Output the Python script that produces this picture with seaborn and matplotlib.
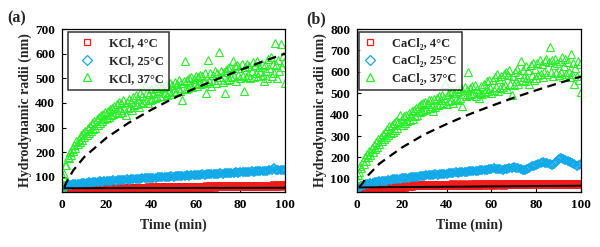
import numpy as np
import pandas as pd
import seaborn as sns
import matplotlib
matplotlib.use("Agg")
import matplotlib.pyplot as plt

sns.set_style("white")
plt.rcParams['font.family'] = ['Liberation Serif', 'DejaVu Serif']
plt.rcParams['font.weight'] = 'bold'

# ---------------- data ----------------
t_fine = [i * 0.5 for i in range(201)]   # 0 .. 100 min, 0.5 min steps
t_unit = list(range(101))                # 0 .. 100 min, 1 min steps

kcl_37 = [
    60, 100, 110, 150, 150, 180, 175, 200, 190, 215,
    205, 230, 218, 245, 232, 255, 240, 270, 250, 278,
    262, 285, 270, 300, 278, 305, 285, 318, 295, 325,
    300, 335, 312, 342, 318, 350, 325, 355, 335, 362,
    338, 368, 345, 375, 350, 380, 355, 388, 362, 395,
    360, 405, 372, 398, 365, 410, 378, 352, 402, 380,
    418, 382, 405, 372, 425, 390, 432, 395, 415, 385,
    440, 398, 428, 405, 470, 410, 445, 400, 435, 412,
    455, 415, 442, 420, 460, 425, 450, 470, 430, 462,
    428, 465, 440, 475, 432, 468, 445, 480, 438, 472,
    450, 485, 445, 478, 460, 492, 450, 482, 410, 488,
    570, 455, 495, 462, 500, 470, 505, 465, 498, 475,
    510, 470, 505, 480, 515, 478, 508, 485, 520, 440,
    482, 575, 490, 522, 470, 515, 495, 530, 480, 520,
    495, 605, 505, 530, 485, 525, 440, 535, 495, 540,
    498, 545, 505, 570, 510, 548, 490, 555, 515, 540,
    500, 560, 510, 450, 545, 505, 560, 515, 550, 500,
    530, 565, 505, 555, 520, 570, 510, 545, 525, 560,
    515, 490, 555, 530, 500, 580, 540, 585, 510, 560,
    520, 645, 555, 500, 575, 530, 640, 545, 590, 565,
    480]

kcl_25 = [
    50, 60, 64, 66, 68, 70, 71, 72, 73, 75,
    75, 76, 78, 77, 79, 80, 80, 82, 81, 83,
    84, 83, 85, 86, 85, 87, 88, 87, 89, 90,
    89, 91, 92, 91, 93, 92, 94, 95, 94, 96,
    95, 97, 96, 98, 99, 98, 100, 99, 101, 102,
    101, 103, 102, 104, 105, 103, 106, 105, 107, 106,
    108, 107, 109, 110, 108, 111, 110, 112, 111, 113,
    112, 114, 113, 115, 114, 116, 117, 115, 118, 117,
    119, 118, 120, 121, 119, 122, 121, 123, 122, 124,
    123, 125, 124, 126, 130, 135, 128, 126, 129, 127,
    128]

kcl_4 = [
    45, 46, 47, 47, 48, 48, 49, 49, 50, 50,
    50, 51, 50, 51, 52, 51, 52, 52, 53, 52,
    53, 53, 54, 53, 54, 54, 55, 54, 55, 55,
    55, 56, 55, 56, 56, 57, 56, 57, 57, 58,
    57, 58, 58, 57, 58, 59, 58, 59, 59, 58,
    59, 59, 60, 59, 60, 60, 59, 60, 61, 60,
    60, 61, 60, 61, 61, 62, 61, 62, 61, 62,
    62, 62, 63, 62, 63, 62, 63, 63, 64, 63,
    63, 64, 63, 64, 64, 63, 64, 65, 64, 65,
    64, 65, 65, 64, 65, 66, 65, 66, 65, 66,
    66]

cacl2_37 = [
    100, 120, 130, 160, 150, 185, 170, 200, 185, 215,
    200, 230, 212, 245, 225, 258, 240, 272, 250, 285,
    262, 295, 275, 310, 285, 320, 295, 335, 305, 345,
    315, 350, 320, 360, 330, 372, 338, 365, 400, 350,
    380, 352, 392, 360, 400, 368, 408, 375, 395, 415,
    380, 420, 392, 432, 400, 440, 410, 448, 415, 455,
    420, 460, 425, 448, 470, 430, 468, 440, 415, 475,
    435, 478, 445, 485, 450, 470, 490, 455, 480, 545,
    450, 495, 462, 505, 470, 512, 455, 500, 475, 520,
    470, 510, 480, 525, 440, 495, 530, 485, 515, 600,
    490, 525, 495, 535, 500, 540, 485, 520, 505, 480,
    500, 535, 495, 545, 505, 520, 555, 510, 560, 525,
    500, 560, 515, 575, 530, 590, 510, 565, 525, 580,
    530, 590, 540, 600, 520, 585, 610, 545, 490, 580,
    540, 600, 555, 615, 545, 590, 650, 560, 610, 575,
    555, 625, 570, 610, 545, 630, 585, 640, 560, 615,
    570, 640, 585, 655, 590, 635, 575, 600, 650, 660,
    590, 645, 715, 600, 655, 580, 630, 660, 595, 640,
    585, 650, 600, 670, 575, 625, 660, 590, 645, 600,
    575, 685, 590, 640, 545, 620, 580, 650, 560, 635,
    505]

cacl2_25 = [
    50, 62, 68, 72, 75, 78, 80, 82, 84, 86,
    88, 89, 91, 92, 94, 95, 97, 98, 99, 101,
    102, 103, 104, 106, 107, 108, 110, 111, 112, 114,
    115, 116, 118, 117, 119, 121, 120, 122, 124, 123,
    125, 127, 126, 128, 130, 129, 131, 133, 132, 134,
    136, 135, 137, 139, 138, 140, 142, 141, 143, 145,
    147, 150, 148, 146, 144, 142, 145, 148, 150, 152,
    155, 153, 150, 146, 143, 142, 146, 152, 158, 162,
    166, 170, 175, 178, 176, 172, 168, 165, 170, 180,
    192, 198, 195, 188, 182, 180, 176, 170, 162, 165,
    170]

cacl2_4 = [
    52, 53, 54, 55, 55, 56, 56, 57, 57, 58,
    58, 59, 59, 60, 60, 61, 61, 62, 62, 63,
    63, 64, 65, 66, 68, 70, 71, 72, 72, 73,
    72, 73, 72, 73, 72, 73, 72, 73, 72, 73,
    73, 72, 73, 74, 73, 72, 73, 74, 73, 72,
    73, 74, 73, 74, 73, 74, 73, 74, 74, 73,
    74, 73, 74, 75, 74, 73, 74, 75, 74, 75,
    74, 75, 74, 75, 75, 74, 75, 76, 75, 74,
    75, 76, 75, 74, 75, 76, 75, 76, 75, 76,
    76, 75, 76, 75, 76, 77, 76, 75, 76, 77,
    76]

fit_t = [1, 2, 5, 10, 20, 30, 40, 50, 60, 70, 80, 90, 100]
kcl_fit37 = [58, 78, 126, 181, 259, 320, 372, 419, 461, 498, 534, 568, 600]
cacl2_fit37 = [62, 73, 117, 171, 246, 307, 356, 401, 441, 479, 514, 547, 578]
lin_t = [1, 100]
kcl_fit4 = [54, 56]
cacl2_fit4 = [60, 68]

labels_a = ["KCl, 4°C", "KCl, 25°C", "KCl, 37°C"]
labels_b = ["CaCl₂, 4°C", "CaCl₂, 25°C", "CaCl₂, 37°C"]

RED = "#F21B1B"
BLUE = "#12A9E8"
GREEN = "#2AEC2A"

fig = plt.figure(figsize=(6.0, 2.47), dpi=100)
ax_a = fig.add_axes([62/600, 1-191.7/247, 223/600, 162.7/247])
ax_b = fig.add_axes([357/600, 1-191.7/247, 224/600, 162.7/247])


def draw(ax, y4, y25, y37, f37, f4, labels, ylim, yticks, leg_kw):
    d4 = pd.DataFrame({"t": t_unit, "r": y4})
    d25 = pd.DataFrame({"t": t_unit, "r": y25})
    d37 = pd.DataFrame({"t": t_fine, "r": y37})
    common = dict(x="t", y="r", ax=ax, estimator=None, sort=False,
                  linestyle="", markerfacecolor="none")
    sns.lineplot(data=d4, marker="s", markersize=4.8, markeredgewidth=1.9,
                 markeredgecolor=RED, color=RED, label=labels[0], **common)
    sns.lineplot(data=d25, marker="D", markersize=4.4, markeredgewidth=1.3,
                 markeredgecolor=BLUE, color=BLUE, label=labels[1], **common)
    sns.lineplot(data=d37, marker="^", markersize=5.5, markeredgewidth=0.8,
                 markeredgecolor=GREEN, color=GREEN, label=labels[2], **common)
    dfit = pd.DataFrame({"t": fit_t, "r": f37})
    sns.lineplot(data=dfit, x="t", y="r", ax=ax, color="black", linewidth=1.6,
                 linestyle=(0, (4, 2.5)), estimator=None, sort=False, legend=False)
    dl = pd.DataFrame({"t": lin_t, "r": f4})
    sns.lineplot(data=dl, x="t", y="r", ax=ax, color="black", linewidth=1.4,
                 estimator=None, sort=False, legend=False)
    ax.set_xlim(0, 100)
    ax.set_ylim(*ylim)
    ax.set_xticks([0, 20, 40, 60, 80, 100])
    ax.set_yticks(yticks)
    ax.tick_params(direction="in", length=3, width=0.8, labelsize=9.5, pad=5,
                   colors="black", bottom=True, left=True)
    for lab in ax.get_xticklabels() + ax.get_yticklabels():
        lab.set_fontweight("bold")
    for s in ax.spines.values():
        s.set_color("black")
        s.set_linewidth(0.9)
    ax.set_xlabel("Time (min)", fontsize=10, fontweight="bold", labelpad=6)
    ax.set_ylabel("Hydrodynamic radii (nm)", fontsize=10, fontweight="bold", labelpad=2)
    leg = ax.legend(loc="upper left", frameon=True, fancybox=False,
                    prop={"size": 9, "weight": "bold"}, borderaxespad=0,
                    labelspacing=0.45, borderpad=0.45, **leg_kw)
    leg.get_frame().set_edgecolor("black")
    leg.get_frame().set_linewidth(1.1)
    for h, ms in zip(leg.legend_handles, [4.2, 4.6, 5.5]):
        h.set_markeredgewidth(0.9)
        h.set_markersize(ms)


draw(ax_a, kcl_4, kcl_25, kcl_37, kcl_fit37, kcl_fit4, labels_a, (40, 700),
     [100, 200, 300, 400, 500, 600, 700],
     dict(bbox_to_anchor=(0.027, 0.982), handlelength=2.2, handletextpad=0.6))
draw(ax_b, cacl2_4, cacl2_25, cacl2_37, cacl2_fit37, cacl2_fit4, labels_b, (40, 800),
     [100, 200, 300, 400, 500, 600, 700, 800],
     dict(bbox_to_anchor=(0.009, 0.982), handlelength=0.8, handletextpad=1.35))

fig.text(17/600, 1-18/247, "(a)", fontsize=11.5, fontweight="bold", ha="center", va="center")
fig.text(316/600, 1-19/247, "(b)", fontsize=11.5, fontweight="bold", ha="center", va="center")

fig.savefig("out.png", dpi=100)
